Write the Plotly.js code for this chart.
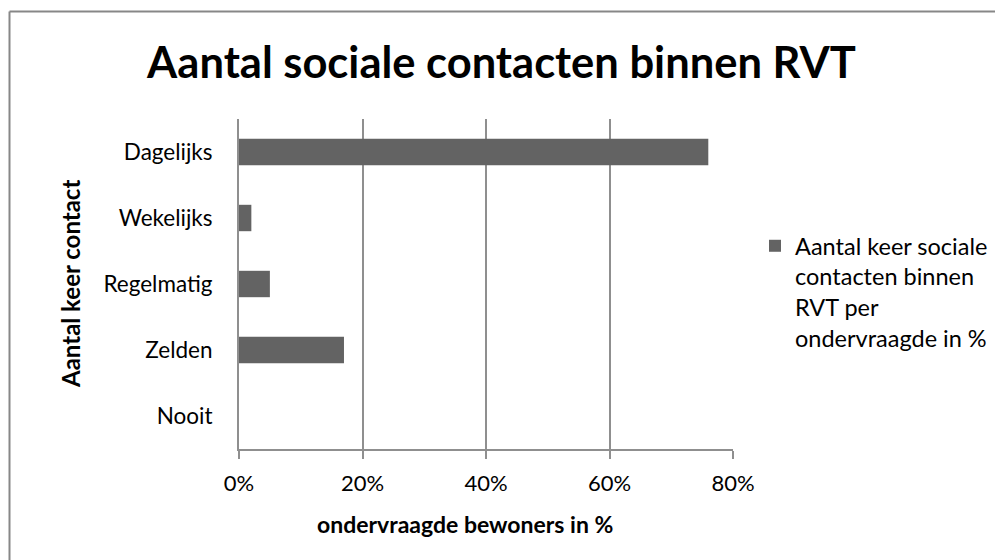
<!DOCTYPE html>
<html>
<head>
<meta charset="utf-8">
<script src="https://cdn.plot.ly/plotly-3.0.1.min.js"></script>
<style>html,body{margin:0;padding:0;background:#fff;}#chart{width:995px;height:560px;}</style>
</head>
<body>
<div id="chart"></div>
<script>
const categories = ["Dagelijks", "Wekelijks", "Regelmatig", "Zelden", "Nooit"];
const values = [0.76, 0.02, 0.05, 0.17, 0.0];
const xTickValues = [0, 0.2, 0.4, 0.6, 0.8];
const xTickLabels = ["0%", "20%", "40%", "60%", "80%"];
const seriesName = "Aantal keer sociale<br>contacten binnen<br>RVT per<br>ondervraagde in %";
const chartTitle = "Aantal sociale contacten binnen RVT";
const xTitle = "ondervraagde bewoners in %";
const yTitle = "Aantal keer contact";

const FONT = "Lato, 'Open Sans', sans-serif";
const W = 995, H = 560;
const L = 239, R = 262, T = 119, B = 111;
const pw = W - L - R, ph = H - T - B;
const px = v => (v - L) / pw;
const py = v => (H - B - v) / ph;
const GRID = "#8f8f8f";

const trace = {
  type: "bar",
  orientation: "h",
  y: categories,
  x: values,
  name: seriesName,
  marker: {color: "#636363"},
  showlegend: true,
  hoverinfo: "x+y"
};

const layout = {
  width: W, height: H,
  margin: {l: L, r: R, t: T, b: B, pad: 0, autoexpand: false},
  paper_bgcolor: "#ffffff",
  plot_bgcolor: "#ffffff",
  font: {family: FONT, color: "#000000", size: 23},
  bargap: 0.6,
  title: {
    text: "<b>" + chartTitle + "</b>",
    font: {family: FONT, size: 43.5, color: "#000000"},
    xref: "container", yref: "container",
    x: 501.5 / W, y: 1 - 63 / H, xanchor: "center", yanchor: "middle"
  },
  xaxis: {
    range: [0, 0.8],
    tickvals: xTickValues,
    ticktext: xTickLabels,
    showgrid: true,
    gridcolor: GRID,
    gridwidth: 2,
    zeroline: false,
    showline: true,
    linecolor: GRID,
    linewidth: 2,
    ticks: "outside",
    ticklen: 8,
    tickwidth: 2,
    tickcolor: GRID,
    tickfont: {family: FONT, size: 22, color: "#000"},
    ticklabelstandoff: 6,
    automargin: false,
    fixedrange: true
  },
  yaxis: {
    type: "category",
    categoryorder: "array",
    categoryarray: categories,
    autorange: "reversed",
    showgrid: false,
    zeroline: false,
    showline: true,
    linecolor: GRID,
    linewidth: 2,
    ticks: "",
    tickfont: {family: FONT, size: 22.5, color: "#000"},
    ticklabelstandoff: 20,
    automargin: false,
    fixedrange: true
  },
  legend: {
    x: px(755), y: py(224), xanchor: "left", yanchor: "top",
    xref: "paper", yref: "paper",
    font: {family: FONT, size: 23.5, color: "#000"},
    valign: "top",
    bgcolor: "rgba(0,0,0,0)",
    itemwidth: 30,
    tracegroupgap: 0
  },
  annotations: [
    {
      text: "<b>" + xTitle + "</b>",
      xref: "paper", yref: "paper",
      x: px(465), y: py(524), xanchor: "center", yanchor: "middle",
      showarrow: false,
      font: {family: FONT, size: 23, color: "#000"}
    },
    {
      text: "<b>" + yTitle + "</b>",
      xref: "paper", yref: "paper",
      x: px(70), y: py(284), xanchor: "center", yanchor: "middle",
      textangle: -90,
      showarrow: false,
      font: {family: FONT, size: 24, color: "#000"}
    }
  ],
  shapes: [
    {
      type: "line", xref: "paper", yref: "paper",
      x0: px(9.5), x1: px(1100), y0: py(11.5), y1: py(11.5),
      line: {color: "#878787", width: 2}
    },
    {
      type: "line", xref: "paper", yref: "paper",
      x0: px(9.5), x1: px(9.5), y0: py(11.5), y1: py(700),
      line: {color: "#878787", width: 2}
    }
  ]
};

Plotly.newPlot("chart", [trace], layout, {displayModeBar: false, staticPlot: true});
</script>
</body>
</html>
